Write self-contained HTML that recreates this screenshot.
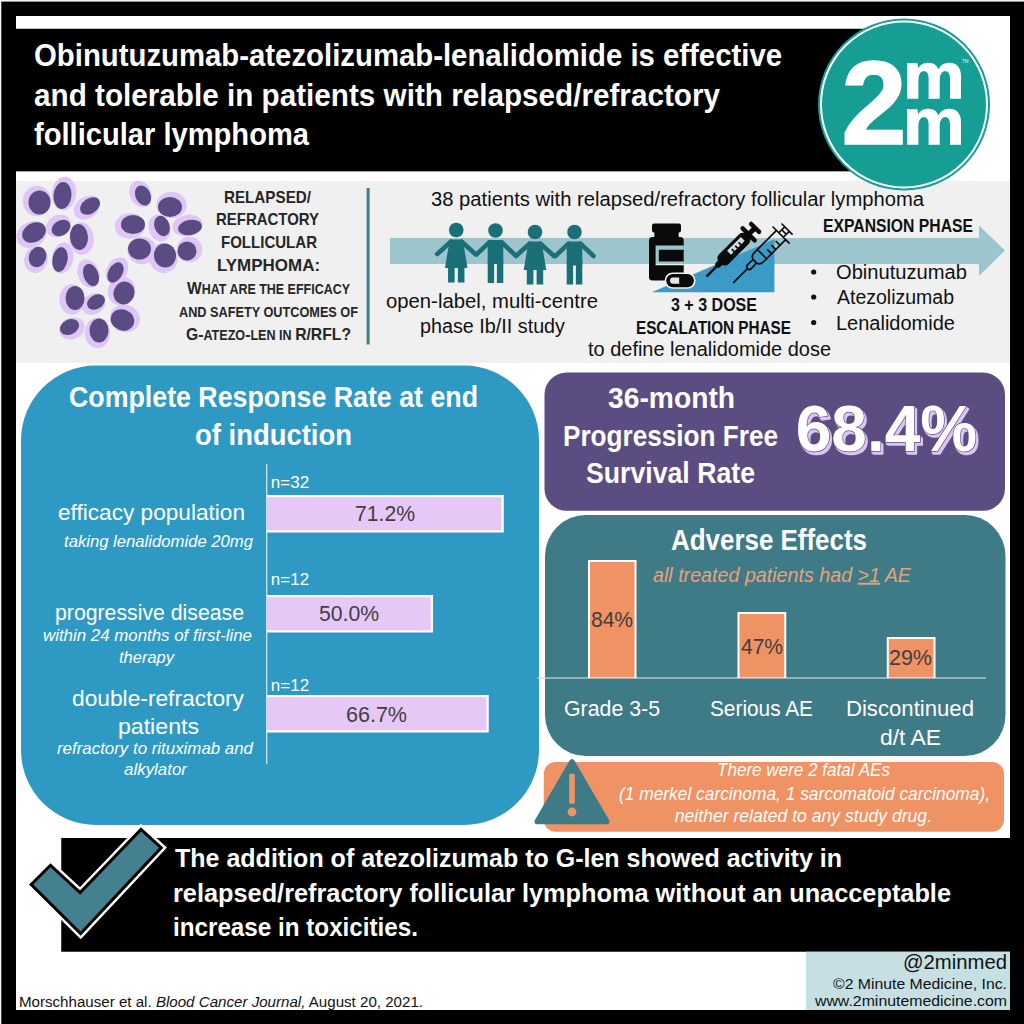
<!DOCTYPE html>
<html><head><meta charset="utf-8"><title>2 Minute Medicine infographic</title>
<style>
html,body{margin:0;padding:0;background:#000;}
body{width:1024px;height:1024px;overflow:hidden;}
svg{display:block;font-family:"Liberation Sans",sans-serif;}
text{white-space:pre;}
</style></head><body>
<svg width="1024" height="1024" viewBox="0 0 1024 1024">
<rect x="0" y="0" width="1024" height="1024" fill="#000"/>
<rect x="0" y="0" width="1024" height="1.6" fill="#f4f4f4"/>
<rect x="0" y="0" width="1.3" height="1024" fill="#f4f4f4"/>
<rect x="16" y="16" width="994" height="994" fill="#fff"/>
<rect x="16" y="28.75" width="890" height="142.6" fill="#000"/>
<rect x="16" y="181" width="994" height="182" fill="#f0f0f0"/>
<ellipse cx="37.0" cy="201.0" rx="14.2" ry="15.2" transform="rotate(0 37.0 201.0)" fill="#dfc6f6"/>
<ellipse cx="64.0" cy="193.5" rx="12.2" ry="16.7" transform="rotate(5 64.0 193.5)" fill="#dfc6f6"/>
<ellipse cx="87" cy="207.5" rx="14.2" ry="10.7" transform="rotate(-35 87 207.5)" fill="#dfc6f6"/>
<ellipse cx="31.5" cy="234.5" rx="15.7" ry="12.7" transform="rotate(-30 31.5 234.5)" fill="#dfc6f6"/>
<ellipse cx="58.5" cy="226" rx="13.2" ry="10.7" transform="rotate(-30 58.5 226)" fill="#dfc6f6"/>
<ellipse cx="81.5" cy="238.5" rx="12.2" ry="16.2" transform="rotate(-5 81.5 238.5)" fill="#dfc6f6"/>
<ellipse cx="36.0" cy="259.5" rx="11.7" ry="13.7" transform="rotate(20 36.0 259.5)" fill="#dfc6f6"/>
<ellipse cx="62.5" cy="258.0" rx="10.7" ry="15.7" transform="rotate(10 62.5 258.0)" fill="#dfc6f6"/>
<ellipse cx="140.5" cy="194.0" rx="10.7" ry="13.7" transform="rotate(-25 140.5 194.0)" fill="#dfc6f6"/>
<ellipse cx="171.5" cy="205" rx="15.2" ry="13.2" transform="rotate(0 171.5 205)" fill="#dfc6f6"/>
<ellipse cx="130" cy="226.0" rx="15.2" ry="12.7" transform="rotate(0 130 226.0)" fill="#dfc6f6"/>
<ellipse cx="159.5" cy="228" rx="10.7" ry="13.7" transform="rotate(-20 159.5 228)" fill="#dfc6f6"/>
<ellipse cx="187.5" cy="225.5" rx="15.2" ry="10.7" transform="rotate(-10 187.5 225.5)" fill="#dfc6f6"/>
<ellipse cx="142.0" cy="250.5" rx="14.7" ry="13.7" transform="rotate(0 142.0 250.5)" fill="#dfc6f6"/>
<ellipse cx="163.5" cy="258.0" rx="14.2" ry="15.2" transform="rotate(-10 163.5 258.0)" fill="#dfc6f6"/>
<ellipse cx="189.5" cy="249.5" rx="12.7" ry="12.7" transform="rotate(0 189.5 249.5)" fill="#dfc6f6"/>
<ellipse cx="88.5" cy="273.5" rx="10.7" ry="14.7" transform="rotate(-20 88.5 273.5)" fill="#dfc6f6"/>
<ellipse cx="117.0" cy="270.5" rx="10.2" ry="14.2" transform="rotate(30 117.0 270.5)" fill="#dfc6f6"/>
<ellipse cx="72" cy="299.5" rx="12.7" ry="15.2" transform="rotate(0 72 299.5)" fill="#dfc6f6"/>
<ellipse cx="93.5" cy="304" rx="12.7" ry="10.2" transform="rotate(-30 93.5 304)" fill="#dfc6f6"/>
<ellipse cx="121.5" cy="291" rx="13.7" ry="14.7" transform="rotate(20 121.5 291)" fill="#dfc6f6"/>
<ellipse cx="72.0" cy="328.5" rx="13.2" ry="10.7" transform="rotate(-25 72.0 328.5)" fill="#dfc6f6"/>
<ellipse cx="97.5" cy="333.0" rx="12.7" ry="15.2" transform="rotate(0 97.5 333.0)" fill="#dfc6f6"/>
<ellipse cx="125.0" cy="318.5" rx="15.2" ry="13.7" transform="rotate(20 125.0 318.5)" fill="#dfc6f6"/>
<ellipse cx="39.5" cy="202.5" rx="11" ry="12" transform="rotate(0 39.5 202.5)" fill="#5a4b82"/>
<ellipse cx="62.5" cy="195.5" rx="9" ry="13.5" transform="rotate(5 62.5 195.5)" fill="#5a4b82"/>
<ellipse cx="90" cy="206" rx="11" ry="7.5" transform="rotate(-35 90 206)" fill="#5a4b82"/>
<ellipse cx="34" cy="232.5" rx="12.5" ry="9.5" transform="rotate(-30 34 232.5)" fill="#5a4b82"/>
<ellipse cx="61" cy="228" rx="10" ry="7.5" transform="rotate(-30 61 228)" fill="#5a4b82"/>
<ellipse cx="79" cy="237" rx="9" ry="13" transform="rotate(-5 79 237)" fill="#5a4b82"/>
<ellipse cx="37.5" cy="257" rx="8.5" ry="10.5" transform="rotate(20 37.5 257)" fill="#5a4b82"/>
<ellipse cx="60" cy="259.5" rx="7.5" ry="12.5" transform="rotate(10 60 259.5)" fill="#5a4b82"/>
<ellipse cx="143" cy="195.5" rx="7.5" ry="10.5" transform="rotate(-25 143 195.5)" fill="#5a4b82"/>
<ellipse cx="170" cy="207" rx="12" ry="10" transform="rotate(0 170 207)" fill="#5a4b82"/>
<ellipse cx="133" cy="224.5" rx="12" ry="9.5" transform="rotate(0 133 224.5)" fill="#5a4b82"/>
<ellipse cx="162" cy="226" rx="7.5" ry="10.5" transform="rotate(-20 162 226)" fill="#5a4b82"/>
<ellipse cx="190" cy="227.5" rx="12" ry="7.5" transform="rotate(-10 190 227.5)" fill="#5a4b82"/>
<ellipse cx="139.5" cy="249" rx="11.5" ry="10.5" transform="rotate(0 139.5 249)" fill="#5a4b82"/>
<ellipse cx="165" cy="255.5" rx="11" ry="12" transform="rotate(-10 165 255.5)" fill="#5a4b82"/>
<ellipse cx="187" cy="251" rx="9.5" ry="9.5" transform="rotate(0 187 251)" fill="#5a4b82"/>
<ellipse cx="91" cy="275" rx="7.5" ry="11.5" transform="rotate(-20 91 275)" fill="#5a4b82"/>
<ellipse cx="115.5" cy="272.5" rx="7" ry="11" transform="rotate(30 115.5 272.5)" fill="#5a4b82"/>
<ellipse cx="75" cy="298" rx="9.5" ry="12" transform="rotate(0 75 298)" fill="#5a4b82"/>
<ellipse cx="96" cy="302" rx="9.5" ry="7" transform="rotate(-30 96 302)" fill="#5a4b82"/>
<ellipse cx="124" cy="293" rx="10.5" ry="11.5" transform="rotate(20 124 293)" fill="#5a4b82"/>
<ellipse cx="69.5" cy="327" rx="10" ry="7.5" transform="rotate(-25 69.5 327)" fill="#5a4b82"/>
<ellipse cx="99" cy="330.5" rx="9.5" ry="12" transform="rotate(0 99 330.5)" fill="#5a4b82"/>
<ellipse cx="122.5" cy="320" rx="12" ry="10.5" transform="rotate(20 122.5 320)" fill="#5a4b82"/>
<rect x="366.6" y="188" width="3" height="156.5" fill="#3b7f86"/>
<polygon points="390,238 979,238 979,225.5 1005,250.5 979,276 979,264 390,264" fill="#9dc5cd"/>
<g fill="#1a7076" stroke="none"><circle cx="456.25" cy="230" r="7.3"/><polygon points="449.75,239.5 462.75,239.5 467.55,268.0 444.95,268.0"/><rect x="448.05" y="267.5" width="6.6" height="15"/><rect x="457.85" y="267.5" width="6.6" height="15"/><path d="M450.75,241.7 L437.25,254.0 M461.75,241.7 L475.25,254.0" stroke="#1a7076" stroke-width="4.6" stroke-linecap="round" fill="none"/></g>
<g fill="#1a7076" stroke="none"><circle cx="495.5" cy="230.5" r="7.3"/><rect x="487.7" y="240.0" width="15.6" height="24" rx="1.5"/><rect x="487.7" y="260.0" width="6.4" height="23"/><rect x="496.9" y="260.0" width="6.4" height="23"/><path d="M489.5,242.2 L476.5,254.5 M501.5,242.2 L514.5,254.5" stroke="#1a7076" stroke-width="4.6" stroke-linecap="round" fill="none"/></g>
<g fill="#1a7076" stroke="none"><circle cx="535" cy="232" r="7.3"/><polygon points="528.5,241.5 541.5,241.5 546.3,270.0 523.7,270.0"/><rect x="526.8" y="269.5" width="6.6" height="15"/><rect x="536.6" y="269.5" width="6.6" height="15"/><path d="M529.5,243.7 L516,256.0 M540.5,243.7 L554,256.0" stroke="#1a7076" stroke-width="4.6" stroke-linecap="round" fill="none"/></g>
<g fill="#1a7076" stroke="none"><circle cx="574.5" cy="232" r="7.3"/><rect x="566.7" y="241.5" width="15.6" height="24" rx="1.5"/><rect x="566.7" y="261.5" width="6.4" height="23"/><rect x="575.9" y="261.5" width="6.4" height="23"/><path d="M568.5,243.7 L555.5,256.0 M580.5,243.7 L593.5,256.0" stroke="#1a7076" stroke-width="4.6" stroke-linecap="round" fill="none"/></g>
<polygon points="651.7,292.3 774.4,292.3 774.4,239.2" fill="#3b9bc6"/>
<path fill="#0a0a0a" fill-rule="evenodd" d="M654.5,223.6 h24.5 a2,2 0 0 1 2,2 v4.8 a2,2 0 0 1 -2,2 h-0.3 v4.6 h1.5 a3.5,3.5 0 0 1 3.5,3.5 v36.6 a3.5,3.5 0 0 1 -3.5,3.5 h-27.7 a3.5,3.5 0 0 1 -3.5,-3.5 v-36.6 a3.5,3.5 0 0 1 3.5,-3.5 h1.8 v-4.6 h-0.3 a2,2 0 0 1 -2,-2 v-4.8 a2,2 0 0 1 2,-2 z M655.6,245.5 v19.8 h28.2 v-3.7 h-25 v-11.9 h25 v-4.2 z"/>
<rect x="664.6" y="272.4" width="31" height="16.4" rx="8.2" fill="#f0f0f0"/>
<rect x="666.2" y="274" width="27.8" height="13.2" rx="6.6" fill="#0a0a0a"/>
<path d="M673.2,277.4 h6 v6.4 h-6 a3.2,3.2 0 0 1 0,-6.4 z" fill="#e4e4e4"/>
<g transform="translate(706.3 276.7) rotate(-45)" fill="#0a0a0a"><rect x="0" y="-1.2" width="18" height="2.4" rx="1.2"/><rect x="14" y="-3.1" width="8" height="6.2" rx="3"/><rect x="19.5" y="-6.75" width="39" height="13.5" rx="5"/><rect x="57.7" y="-10.7" width="4.4" height="21.4" rx="2.2"/><rect x="61" y="-2.5" width="7" height="5"/><rect x="66.8" y="-7.8" width="4.4" height="15.6" rx="2.2"/><rect x="33" y="-3.6" width="19.5" height="5.4" fill="#cfdfe3"/><path d="M37.5,2 v-3.4 M42.3,2 v-3.4 M47.1,2 v-3.4" stroke="#0a0a0a" stroke-width="1.7" fill="none"/></g>
<g transform="translate(733.7 282.4) rotate(-45)" fill="none" stroke="#0a0a0a" stroke-width="1.6" stroke-linecap="round" stroke-linejoin="round"><path d="M0,0 H19.5"/><rect x="19.5" y="-2.6" width="10.5" height="5.2" rx="2.6"/><path d="M67,-6.5 H36 q-5.5,0 -6.2,4.5 M67,6.5 H36 q-5.5,0 -6.2,-4.5"/><path d="M67,-11.4 V11.4 M67,-3.2 H75.4 M67,3.2 H75.4 M75.4,-7.2 V7.2 M71.2,-3.2 V3.2"/><path d="M40,-6.5 V6.5 M47,6.5 v-5.5 M53,6.5 v-5.5 M59,6.5 v-5.5"/></g>
<circle cx="813.7" cy="272" r="2.6" fill="#111"/>
<circle cx="813.7" cy="297" r="2.6" fill="#111"/>
<circle cx="813.7" cy="322.5" r="2.6" fill="#111"/>
<rect x="21" y="365.5" width="518" height="459.5" rx="75" fill="#2e9ac4"/>
<rect x="266.2" y="464" width="1.1" height="300" fill="#e8f2f6"/>
<rect x="267" y="495" width="236.75" height="37.5" fill="#fff"/>
<rect x="267" y="497.2" width="234.55" height="33.1" fill="#e6c8f7"/>
<rect x="267" y="595" width="166" height="37.5" fill="#fff"/>
<rect x="267" y="597.2" width="163.8" height="33.1" fill="#e6c8f7"/>
<rect x="267" y="695" width="221.75" height="37.5" fill="#fff"/>
<rect x="267" y="697.2" width="219.55" height="33.1" fill="#e6c8f7"/>
<rect x="544.5" y="372.5" width="460.5" height="138.3" rx="22" fill="#5b4d82"/>
<rect x="545" y="515" width="460.5" height="241" rx="41" fill="#3f7a87"/>
<rect x="537.5" y="677.4" width="448.5" height="1.2" fill="#c9d9dd"/>
<rect x="588" y="560" width="48.5" height="118" fill="#fff"/>
<rect x="590" y="562" width="44.5" height="115.4" fill="#ef9264"/>
<rect x="737.5" y="612" width="48.75" height="66" fill="#fff"/>
<rect x="739.5" y="614" width="44.75" height="63.4" fill="#ef9264"/>
<rect x="886.75" y="637" width="48.75" height="41" fill="#fff"/>
<rect x="888.75" y="639" width="44.75" height="38.4" fill="#ef9264"/>
<rect x="543.75" y="762" width="460.25" height="69.75" rx="12" fill="#ef9264"/>
<path d="M572,761.8 L606.8,821.6 L537.2,821.6 Z" fill="#3f7a87" stroke="#3f7a87" stroke-width="5.5" stroke-linejoin="round"/>
<rect x="569.2" y="773.75" width="5.6" height="30" rx="1" fill="#ef9264"/><circle cx="572" cy="812" r="4.4" fill="#ef9264"/>
<rect x="61.25" y="838" width="950" height="113.75" fill="#000"/>
<rect x="806" y="951.75" width="204" height="58.25" fill="#c5dfe3"/>
<polygon points="33.3,884.5 50.5,867.3 80.2,894.7 141.1,831.4 159.1,847.8 80.6,931.4" fill="#fff" stroke="#fff" stroke-width="11" stroke-linejoin="miter"/>
<polygon points="33.3,884.5 50.5,867.3 80.2,894.7 141.1,831.4 159.1,847.8 80.6,931.4" fill="#000" stroke="#000" stroke-width="6" stroke-linejoin="miter"/>
<polygon points="33.3,884.5 50.5,867.3 80.2,894.7 141.1,831.4 159.1,847.8 80.6,931.4" fill="#44808f"/>
<circle cx="904" cy="104.5" r="86" fill="#169d94"/>
<circle cx="904" cy="104.5" r="83" fill="none" stroke="#fff" stroke-width="2"/>
<text x="841.3" y="144.3" font-size="119" font-weight="700" fill="#fff" stroke="#fff" stroke-width="1.5" textLength="65.5" lengthAdjust="spacingAndGlyphs">2</text>
<text x="903.2" y="98.3" font-size="64.5" font-weight="700" fill="#fff" stroke="#fff" stroke-width="1.5" textLength="61.2" lengthAdjust="spacingAndGlyphs">m</text>
<text x="903.2" y="144.3" font-size="64.5" font-weight="700" fill="#fff" stroke="#fff" stroke-width="1.5" textLength="61.2" lengthAdjust="spacingAndGlyphs">m</text>
<text x="962" y="63" font-size="4.5" fill="#dff" >TM</text>
<text x="34.00" y="66.25" font-size="30.97" fill="#ffffff" textLength="748.01" lengthAdjust="spacingAndGlyphs" font-weight="700" >Obinutuzumab-atezolizumab-lenalidomide is effective</text>
<text x="34.00" y="106.25" font-size="30.97" fill="#ffffff" textLength="686.00" lengthAdjust="spacingAndGlyphs" font-weight="700" >and tolerable in patients with relapsed/refractory</text>
<text x="34.00" y="145.00" font-size="30.97" fill="#ffffff" textLength="275.00" lengthAdjust="spacingAndGlyphs" font-weight="700" >follicular lymphoma</text>
<text x="223.96" y="202.50" font-size="17.39" fill="#262626" textLength="87.06" lengthAdjust="spacingAndGlyphs" font-weight="700" >RELAPSED/</text>
<text x="215.97" y="224.50" font-size="17.39" fill="#262626" textLength="103.03" lengthAdjust="spacingAndGlyphs" font-weight="700" >REFRACTORY</text>
<text x="220.98" y="247.50" font-size="17.39" fill="#262626" textLength="96.05" lengthAdjust="spacingAndGlyphs" font-weight="700" >FOLLICULAR</text>
<text x="216.97" y="271.00" font-size="17.39" fill="#262626" textLength="103.07" lengthAdjust="spacingAndGlyphs" font-weight="700" >LYMPHOMA:</text>
<text x="431.00" y="206.00" font-size="19.81" fill="#111111" textLength="493.01" lengthAdjust="spacingAndGlyphs" >38 patients with relapsed/refractory follicular lymphoma</text>
<text x="385.99" y="308.00" font-size="19.81" fill="#111111" textLength="212.02" lengthAdjust="spacingAndGlyphs" >open-label, multi-centre</text>
<text x="419.99" y="333.00" font-size="19.81" fill="#111111" textLength="145.02" lengthAdjust="spacingAndGlyphs" >phase Ib/II study</text>
<text x="670.98" y="311.00" font-size="17.58" fill="#111111" textLength="86.05" lengthAdjust="spacingAndGlyphs" font-weight="700" >3 + 3 DOSE</text>
<text x="635.98" y="334.00" font-size="17.58" fill="#111111" textLength="155.03" lengthAdjust="spacingAndGlyphs" font-weight="700" >ESCALATION PHASE</text>
<text x="588.00" y="355.50" font-size="19.81" fill="#111111" textLength="243.00" lengthAdjust="spacingAndGlyphs" >to define lenalidomide dose</text>
<text x="822.99" y="232.00" font-size="17.58" fill="#111111" textLength="150.02" lengthAdjust="spacingAndGlyphs" font-weight="700" >EXPANSION PHASE</text>
<text x="835.98" y="279.00" font-size="19.81" fill="#111111" textLength="131.04" lengthAdjust="spacingAndGlyphs" >Obinutuzumab</text>
<text x="836.99" y="304.00" font-size="19.81" fill="#111111" textLength="117.02" lengthAdjust="spacingAndGlyphs" >Atezolizumab</text>
<text x="835.95" y="329.50" font-size="19.81" fill="#111111" textLength="119.08" lengthAdjust="spacingAndGlyphs" >Lenalidomide</text>
<text x="68.99" y="407.00" font-size="28.64" fill="#ffffff" textLength="409.02" lengthAdjust="spacingAndGlyphs" font-weight="700" >Complete Response Rate at end</text>
<text x="194.98" y="445.00" font-size="28.64" fill="#ffffff" textLength="157.06" lengthAdjust="spacingAndGlyphs" font-weight="700" >of induction</text>
<text x="57.99" y="520.00" font-size="22.13" fill="#ffffff" textLength="187.02" lengthAdjust="spacingAndGlyphs" >efficacy population</text>
<text x="64.00" y="547.00" font-size="16.55" fill="#ffffff" textLength="189.01" lengthAdjust="spacingAndGlyphs" font-style="italic" >taking lenalidomide 20mg</text>
<text x="54.99" y="620.00" font-size="22.13" fill="#ffffff" textLength="189.02" lengthAdjust="spacingAndGlyphs" >progressive disease</text>
<text x="42.99" y="641.00" font-size="16.55" fill="#ffffff" textLength="209.02" lengthAdjust="spacingAndGlyphs" font-style="italic" >within 24 months of first-line</text>
<text x="119.00" y="662.50" font-size="16.55" fill="#ffffff" textLength="55.01" lengthAdjust="spacingAndGlyphs" font-style="italic" >therapy</text>
<text x="71.99" y="705.50" font-size="22.13" fill="#ffffff" textLength="172.01" lengthAdjust="spacingAndGlyphs" >double-refractory</text>
<text x="117.95" y="734.00" font-size="22.13" fill="#ffffff" textLength="81.09" lengthAdjust="spacingAndGlyphs" >patients</text>
<text x="57.00" y="754.00" font-size="16.55" fill="#ffffff" textLength="196.00" lengthAdjust="spacingAndGlyphs" font-style="italic" >refractory to rituximab and</text>
<text x="124.00" y="775.00" font-size="16.55" fill="#ffffff" textLength="63.01" lengthAdjust="spacingAndGlyphs" font-style="italic" >alkylator</text>
<text x="270.88" y="487.50" font-size="16.18" fill="#ffffff" textLength="38.20" lengthAdjust="spacingAndGlyphs" >n=32</text>
<text x="270.88" y="585.00" font-size="16.18" fill="#ffffff" textLength="38.20" lengthAdjust="spacingAndGlyphs" >n=12</text>
<text x="270.88" y="690.75" font-size="16.18" fill="#ffffff" textLength="38.20" lengthAdjust="spacingAndGlyphs" >n=12</text>
<text x="354.96" y="521.00" font-size="21.76" fill="#404040" textLength="60.07" lengthAdjust="spacingAndGlyphs" >71.2%</text>
<text x="318.95" y="621.00" font-size="21.76" fill="#404040" textLength="60.08" lengthAdjust="spacingAndGlyphs" >50.0%</text>
<text x="345.93" y="721.75" font-size="21.76" fill="#404040" textLength="61.12" lengthAdjust="spacingAndGlyphs" >66.7%</text>
<text x="607.98" y="407.50" font-size="28.64" fill="#ffffff" textLength="127.07" lengthAdjust="spacingAndGlyphs" font-weight="700" >36-month</text>
<text x="562.97" y="445.75" font-size="28.64" fill="#ffffff" textLength="215.04" lengthAdjust="spacingAndGlyphs" font-weight="700" >Progression Free</text>
<text x="585.98" y="482.50" font-size="28.64" fill="#ffffff" textLength="169.02" lengthAdjust="spacingAndGlyphs" font-weight="700" >Survival Rate</text>
<text x="795.7" font-size="65.47" font-weight="700" textLength="181.5" lengthAdjust="spacingAndGlyphs" y="454" transform="translate(2.3 0)" fill="#dcc4f5" stroke="#dcc4f5" stroke-width="1.6" stroke-linejoin="round">68.4%</text>
<text x="795.7" font-size="65.47" font-weight="700" textLength="181.5" lengthAdjust="spacingAndGlyphs" y="452.5" transform="translate(1.2 0)" fill="#dcc4f5" stroke="#dcc4f5" stroke-width="1.6" stroke-linejoin="round">68.4%</text>
<text x="795.7" font-size="65.47" font-weight="700" textLength="181.5" lengthAdjust="spacingAndGlyphs" y="451" fill="#fff" stroke="#5b4d82" stroke-width="1.4" paint-order="stroke" stroke-linejoin="round">68.4%</text>
<text x="670.99" y="550.00" font-size="28.64" fill="#ffffff" textLength="196.02" lengthAdjust="spacingAndGlyphs" font-weight="700" >Adverse Effects</text>
<text x="653.00" y="581.75" font-size="19.90" fill="#e9a07c" textLength="258.00" lengthAdjust="spacingAndGlyphs" font-style="italic" >all treated patients had <tspan text-decoration="underline">&gt;1</tspan> AE</text>
<text x="590.96" y="627.00" font-size="21.76" fill="#404040" textLength="42.06" lengthAdjust="spacingAndGlyphs" >84%</text>
<text x="740.98" y="653.75" font-size="21.76" fill="#404040" textLength="42.06" lengthAdjust="spacingAndGlyphs" >47%</text>
<text x="888.92" y="665.00" font-size="21.76" fill="#404040" textLength="43.11" lengthAdjust="spacingAndGlyphs" >29%</text>
<text x="563.98" y="715.50" font-size="21.86" fill="#ffffff" textLength="96.05" lengthAdjust="spacingAndGlyphs" >Grade 3-5</text>
<text x="709.98" y="715.50" font-size="21.86" fill="#ffffff" textLength="103.04" lengthAdjust="spacingAndGlyphs" >Serious AE</text>
<text x="845.95" y="715.50" font-size="21.86" fill="#ffffff" textLength="128.07" lengthAdjust="spacingAndGlyphs" >Discontinued</text>
<text x="879.97" y="745.00" font-size="21.86" fill="#ffffff" textLength="61.08" lengthAdjust="spacingAndGlyphs" >d/t AE</text>
<text x="716.98" y="776.25" font-size="17.48" fill="#ffffff" textLength="173.04" lengthAdjust="spacingAndGlyphs" font-style="italic" >There were 2 fatal AEs</text>
<text x="618.99" y="799.50" font-size="17.48" fill="#ffffff" textLength="371.02" lengthAdjust="spacingAndGlyphs" font-style="italic" >(1 merkel carcinoma, 1 sarcomatoid carcinoma),</text>
<text x="674.80" y="822.00" font-size="17.48" fill="#ffffff" textLength="257.23" lengthAdjust="spacingAndGlyphs" font-style="italic" >neither related to any study drug.</text>
<text x="175.00" y="866.75" font-size="26.51" fill="#ffffff" textLength="667.00" lengthAdjust="spacingAndGlyphs" font-weight="700" >The addition of atezolizumab to G-len showed activity in</text>
<text x="172.99" y="901.75" font-size="26.51" fill="#ffffff" textLength="778.01" lengthAdjust="spacingAndGlyphs" font-weight="700" >relapsed/refractory follicular lymphoma without an unacceptable</text>
<text x="172.97" y="935.50" font-size="26.51" fill="#ffffff" textLength="245.07" lengthAdjust="spacingAndGlyphs" font-weight="700" >increase in toxicities.</text>
<text x="902.94" y="969.25" font-size="19.72" fill="#111111" textLength="104.09" lengthAdjust="spacingAndGlyphs" >@2minmed</text>
<text x="833.00" y="989.25" font-size="15.44" fill="#111111" textLength="174.01" lengthAdjust="spacingAndGlyphs" >©2 Minute Medicine, Inc.</text>
<text x="814.99" y="1006.00" font-size="15.44" fill="#111111" textLength="192.01" lengthAdjust="spacingAndGlyphs" >www.2minutemedicine.com</text>
<text x="18.99" y="1006.75" font-size="15.44" fill="#111111" textLength="404.03" lengthAdjust="spacingAndGlyphs" >Morschhauser et al. <tspan font-style="italic">Blood Cancer Journal,</tspan> August 20, 2021.</text>
<text x="187.00" y="294" font-weight="700" fill="#262626" textLength="163.00" lengthAdjust="spacingAndGlyphs"><tspan font-size="17.39">W</tspan><tspan font-size="13.91">HAT ARE THE EFFICACY</tspan></text>
<text x="178.99" y="317" font-weight="700" fill="#262626" textLength="179.01" lengthAdjust="spacingAndGlyphs"><tspan font-size="13.91">AND SAFETY OUTCOMES OF</tspan></text>
<text x="185.99" y="339.5" font-weight="700" fill="#262626" textLength="165.01" lengthAdjust="spacingAndGlyphs"><tspan font-size="17.39">G-</tspan><tspan font-size="13.91">ATEZO</tspan><tspan font-size="17.39">-</tspan><tspan font-size="13.91">LEN IN </tspan><tspan font-size="17.39">R/RFL?</tspan></text>
</svg>
</body></html>
